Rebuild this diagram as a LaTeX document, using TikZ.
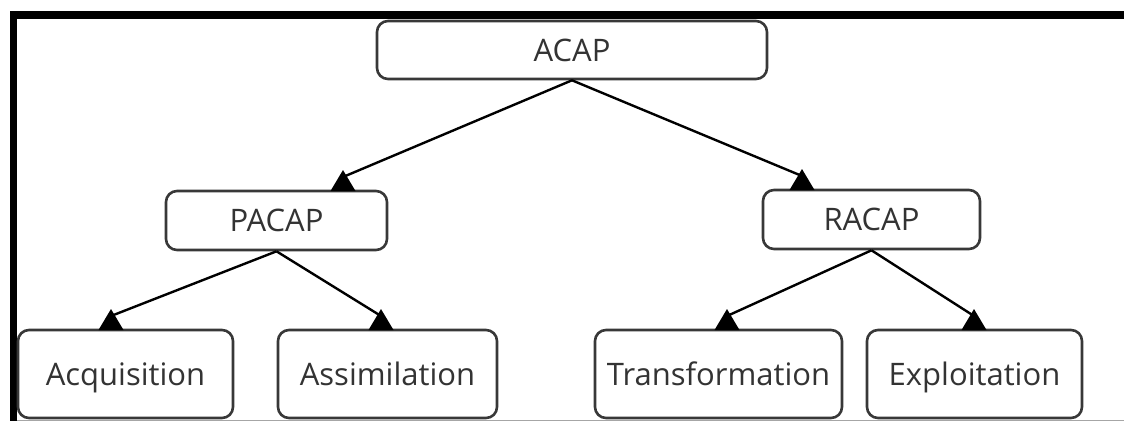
\documentclass[tikz,border=0pt]{standalone}
\usepackage{fontspec}
\setmainfont{Open Sans}
\begin{document}
\begin{tikzpicture}[x=1pt,y=-1pt,
  box/.style={draw=boxgray,line width=2.6pt,rounded corners=11pt,fill=white,
    inner sep=0pt,text=txtgray,font=\fontsize{31}{37}\selectfont,
    text height=22pt,text depth=0pt},
  conn/.style={line width=2.4pt,black},
  tri/.style={fill=black}]
\definecolor{boxgray}{HTML}{383838}
\definecolor{txtgray}{HTML}{333333}
\useasboundingbox (0,0) rectangle (1124,421);
% frame
\fill[black] (9.5,11) rectangle (1124,19.3);
\fill[black] (9.5,11) rectangle (17,421);
\draw[gray!70,line width=1pt] (17,420.5) -- (1124,420.5);
% nodes
\node[box,minimum width=390pt,minimum height=58pt] (acap) at (572,50) {ACAP};
\node[box,minimum width=221pt,minimum height=59pt] (pacap) at (276.5,220.5) {PACAP};
\node[box,minimum width=217pt,minimum height=59pt] (racap) at (871.5,219.5) {RACAP};
\node[box,minimum width=215pt,minimum height=88pt] (acq) at (125.5,374) {Acquisition};
\node[box,minimum width=219pt,minimum height=88pt] (ass) at (387.5,374) {Assimilation};
\node[box,minimum width=247pt,minimum height=88pt] (tra) at (718.5,374) {Transformation};
\node[box,minimum width=215pt,minimum height=88pt] (exp) at (974.5,374) {Exploitation};
% arrow end points on child tops
\coordinate (tp) at (343,191);
\coordinate (tr) at (802,190);
\coordinate (t1) at (111,330);
\coordinate (t2) at (381,330);
\coordinate (t3) at (727,330);
\coordinate (t4) at (974,330);
% connectors
\draw[conn] (acap.south) -- ([yshift=14pt]tp);
\draw[conn] (acap.south) -- ([yshift=14pt]tr);
\draw[conn] (pacap.south) -- ([yshift=14pt]t1);
\draw[conn] (pacap.south) -- ([yshift=14pt]t2);
\draw[conn] (racap.south) -- ([yshift=14pt]t3);
\draw[conn] (racap.south) -- ([yshift=14pt]t4);
% arrowheads
\foreach \t in {tp,tr,t1,t2,t3,t4}
  \fill[tri] ([xshift=-12.5pt]\t) -- ([xshift=12.5pt]\t) -- ([yshift=21pt]\t) -- cycle;
\end{tikzpicture}
\end{document}
